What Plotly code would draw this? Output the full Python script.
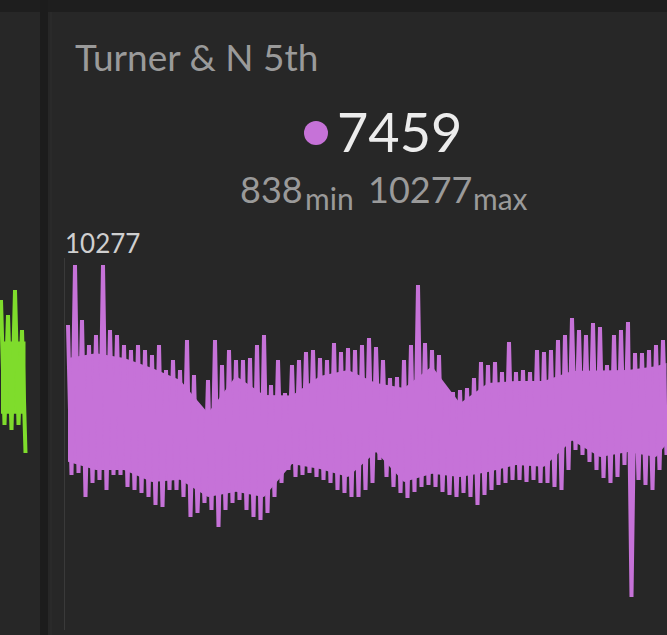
import plotly.graph_objects as go

W, H = 667, 635

title_text = "Turner & N 5th"
current_value = 7459
min_value = 838
max_value = 10277
min_label = "min"
max_label = "max"

# Purple series: successive peak / trough pairs
purple_high = [8571, 10277, 8713, 8002, 8287, 10277, 8429, 8287, 8002, 7860,
               8002, 7860, 7718, 8002, 7292, 7576, 7292, 8145, 7149, 6012,
               7007, 8145, 7434, 7860, 7576, 7576, 7633, 8002, 8287, 6865,
               7576, 6638, 7434, 7576, 7803, 7860, 7633, 7576, 8059, 7803,
               7917, 7860, 8002, 8201, 7946, 7576, 7064, 7093, 7576, 8002,
               9708, 8059, 7860, 7718, 6780, 6666, 6723, 6780, 7064, 7519,
               7434, 7519, 7235, 8088, 7235, 7292, 7235, 7860, 7803, 7860,
               8145, 8287, 8770, 8429, 8287, 8628, 8514, 7434, 8287, 8429,
               8656, 7775, 7775, 7860, 8002, 8145]
purple_low = [4306, 4363, 3681, 4079, 4164, 3880, 4306, 4306, 3965, 3880,
              3795, 3681, 3454, 3397, 3880, 3880, 3681, 3112, 3226, 3510,
              3311, 2828, 3311, 3510, 3596, 3311, 3112, 3027, 3226, 3681,
              4079, 4449, 4250, 4306, 4363, 4250, 4164, 4079, 3880, 3795,
              3681, 3681, 3880, 4079, 4733, 4250, 3965, 3795, 3653, 3823,
              3965, 4022, 3965, 3823, 3738, 3681, 3795, 3681, 3454, 3738,
              3880, 4022, 4079, 4164, 4164, 4107, 4164, 4079, 4079, 3965,
              3880, 4449, 5017, 4875, 4676, 4449, 4221, 4079, 4250, 4591,
              838, 4164, 4022, 3880, 4449, 4875]

# Solid core of the dense purple trace (upper / lower edge), read every 8 points
core_upper = [7630, 7770, 7630, 7350, 7005, 6070, 7120, 6580, 6570, 7120,
              7290, 6920, 6780, 7400, 6350, 6920, 6980, 6980, 7260, 7270,
              7290, 7400, 7490]
core_lower = [4680, 4450, 4450, 4110, 4170, 3680, 3830, 3680, 4620, 4480,
              4250, 4960, 4110, 4340, 4250, 4390, 4590, 4540, 5290, 4820,
              4960, 4820, 5190]

# Neighbouring (partly visible) green panel series
green_high = [9282, 8855, 9566, 8429]
green_low = [5728, 5586, 5728, 4932]
green_core_upper = [8100, 8100]
green_core_lower = [6050, 6050]


def interleave(hi, lo):
    out = []
    for h, l in zip(hi, lo):
        out += [h, l]
    return out


purple_y = interleave(purple_high, purple_low)
green_y = interleave(green_high, green_low)
n_p = len(purple_y)
core_x = [8 * j for j in range(len(core_upper) - 1)] + [n_p - 1]
green_core_x = [0, len(green_y) - 1]

PURPLE = "#c672d8"
GREEN = "#7fdc2c"
BG = "#272727"


def fx(px):
    return px / W


def fy(py):
    return 1 - py / H


STEP = 3.5          # px per point
X0 = 68             # px of first point
Y_MAX_PX, Y_MIN_PX = 265, 597
per_px = (max_value - min_value) / (Y_MIN_PX - Y_MAX_PX)
DOM_TOP, DOM_BOT = 250, 622
y_range = [min_value - (DOM_BOT - Y_MIN_PX) * per_px,
           max_value + (Y_MAX_PX - DOM_TOP) * per_px]

fig = go.Figure()


def add_series(y, cx, cu, cl, color, xaxis):
    # solid core band
    fig.add_trace(go.Scatter(
        x=cx, y=cl, mode="lines", line=dict(color=color, width=0),
        xaxis=xaxis, yaxis="y", hoverinfo="skip", showlegend=False))
    fig.add_trace(go.Scatter(
        x=cx, y=cu, mode="lines", line=dict(color=color, width=0),
        fill="tonexty", fillcolor=color,
        xaxis=xaxis, yaxis="y", hoverinfo="skip", showlegend=False))
    # dense oscillating line
    fig.add_trace(go.Scatter(
        x=list(range(len(y))), y=y, mode="lines",
        line=dict(color=color, width=4),
        xaxis=xaxis, yaxis="y", hoverinfo="skip", showlegend=False))


add_series(purple_y, core_x, core_upper, core_lower, PURPLE, "x")
add_series(green_y, green_core_x, green_core_upper, green_core_lower, GREEN, "x2")

ax_common = dict(visible=False, showgrid=False, zeroline=False, fixedrange=True)


def txt(text, x, y, size, color, xanchor="left"):
    return dict(text=text, xref="paper", yref="paper", x=fx(x), y=fy(y),
                xanchor=xanchor, yanchor="middle", showarrow=False,
                borderpad=0, font=dict(size=size, color=color))


fig.update_layout(
    width=W, height=H,
    margin=dict(l=0, r=0, t=0, b=0),
    paper_bgcolor=BG, plot_bgcolor="rgba(0,0,0,0)",
    font=dict(family="Lato, sans-serif", color="#9a9a9a"),
    xaxis=dict(domain=[fx(64), 1],
               range=[(64 - X0) / STEP, (W - X0) / STEP], **ax_common),
    xaxis2=dict(domain=[0, fx(28)], range=[(0 - 1) / STEP, (28 - 1) / STEP],
                anchor="y", **ax_common),
    yaxis=dict(domain=[fy(DOM_BOT), fy(DOM_TOP)], range=y_range, **ax_common),
    shapes=[
        dict(type="rect", xref="paper", yref="paper", x0=0, x1=1,
             y0=fy(12), y1=1, fillcolor="#1e1e1e", line_width=0, layer="below"),
        dict(type="rect", xref="paper", yref="paper", x0=fx(40), x1=fx(48),
             y0=0, y1=1, fillcolor="#1c1c1c", line_width=0, layer="below"),
        dict(type="line", xref="paper", yref="paper", x0=fx(51), x1=fx(51),
             y0=0, y1=fy(12), line=dict(color="#2f2f2f", width=1), layer="below"),
        dict(type="line", xref="paper", yref="paper", x0=fx(64.5), x1=fx(64.5),
             y0=fy(630), y1=fy(258), line=dict(color="#3a3a3a", width=1),
             layer="below"),
        dict(type="circle", xref="paper", yref="paper",
             x0=fx(304), x1=fx(328), y0=fy(145), y1=fy(121),
             fillcolor=PURPLE, line_width=0),
    ],
    annotations=[
        txt(title_text, 74, 56, 37, "#9a9a9a"),
        txt(str(current_value), 399, 132, 54, "#ececec", xanchor="center"),
        txt(str(min_value), 239, 189, 36, "#9a9a9a"),
        txt(min_label, 304, 198, 30, "#9a9a9a"),
        txt(str(max_value), 367, 189, 36, "#9a9a9a"),
        txt(max_label, 472, 198, 30, "#9a9a9a"),
        txt(str(max_value), 64, 243, 26, "#cfcfcf"),
    ],
)

fig.write_html("out.html", config={"displayModeBar": False},
               post_script="document.body.style.margin='0';")
